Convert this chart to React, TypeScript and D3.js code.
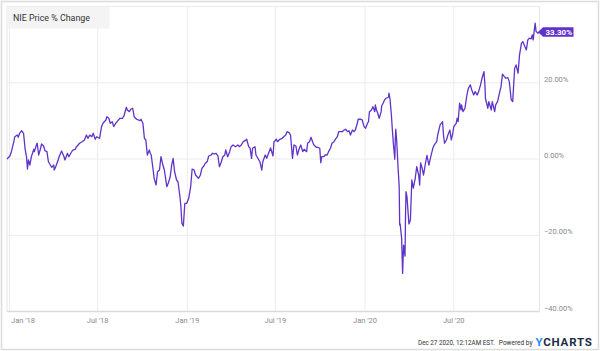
import * as d3 from "d3";

const dates = [
  "2017-12-27", "2018-01-02", "2018-01-05", "2018-01-10", "2018-01-12", "2018-01-17", "2018-01-19", "2018-01-22", "2018-01-26", "2018-01-30",
  "2018-02-02", "2018-02-05", "2018-02-07", "2018-02-09", "2018-02-12", "2018-02-15", "2018-02-20", "2018-02-21", "2018-02-26", "2018-02-27",
  "2018-03-02", "2018-03-05", "2018-03-08", "2018-03-12", "2018-03-15", "2018-03-19", "2018-03-22", "2018-03-26", "2018-03-29", "2018-04-02",
  "2018-04-03", "2018-04-06", "2018-04-11", "2018-04-13", "2018-04-18", "2018-04-23", "2018-04-25", "2018-04-30", "2018-05-03", "2018-05-07",
  "2018-05-11", "2018-05-16", "2018-05-18", "2018-05-25", "2018-05-30", "2018-06-04", "2018-06-08", "2018-06-11", "2018-06-15", "2018-06-19",
  "2018-06-22", "2018-06-26", "2018-06-29", "2018-07-05", "2018-07-09", "2018-07-12", "2018-07-18", "2018-07-20", "2018-07-24", "2018-07-27",
  "2018-07-31", "2018-08-03", "2018-08-07", "2018-08-10", "2018-08-16", "2018-08-21", "2018-08-24", "2018-08-29", "2018-08-31", "2018-09-04",
  "2018-09-07", "2018-09-11", "2018-09-14", "2018-09-19", "2018-09-26", "2018-09-28", "2018-10-02", "2018-10-05", "2018-10-08", "2018-10-11",
  "2018-10-15", "2018-10-17", "2018-10-19", "2018-10-23", "2018-10-25", "2018-10-29", "2018-11-01", "2018-11-05", "2018-11-08", "2018-11-12",
  "2018-11-15", "2018-11-20", "2018-11-23", "2018-11-27", "2018-11-30", "2018-12-03", "2018-12-06", "2018-12-10", "2018-12-13", "2018-12-17",
  "2018-12-19", "2018-12-21", "2018-12-24", "2018-12-27", "2018-12-31", "2019-01-04", "2019-01-08", "2019-01-11", "2019-01-15", "2019-01-18",
  "2019-01-24", "2019-01-28", "2019-01-31", "2019-02-04", "2019-02-07", "2019-02-11", "2019-02-14", "2019-02-19", "2019-02-22", "2019-02-26",
  "2019-03-01", "2019-03-05", "2019-03-08", "2019-03-12", "2019-03-15", "2019-03-19", "2019-03-21", "2019-03-25", "2019-03-29", "2019-04-01",
  "2019-04-05", "2019-04-10", "2019-04-15", "2019-04-18", "2019-04-22", "2019-04-26", "2019-04-30", "2019-05-03", "2019-05-07", "2019-05-10",
  "2019-05-13", "2019-05-15", "2019-05-20", "2019-05-22", "2019-05-28", "2019-05-30", "2019-06-03", "2019-06-05", "2019-06-10", "2019-06-13",
  "2019-06-18", "2019-06-21", "2019-06-26", "2019-06-28", "2019-07-03", "2019-07-05", "2019-07-10", "2019-07-15", "2019-07-18", "2019-07-22",
  "2019-07-25", "2019-07-29", "2019-08-01", "2019-08-05", "2019-08-08", "2019-08-12", "2019-08-15", "2019-08-19", "2019-08-22", "2019-08-26",
  "2019-08-29", "2019-09-03", "2019-09-05", "2019-09-09", "2019-09-12", "2019-09-16", "2019-09-18", "2019-09-23", "2019-09-26", "2019-09-30",
  "2019-10-02", "2019-10-04", "2019-10-08", "2019-10-11", "2019-10-15", "2019-10-18", "2019-10-22", "2019-10-25", "2019-10-29", "2019-11-01",
  "2019-11-05", "2019-11-08", "2019-11-12", "2019-11-15", "2019-11-19", "2019-11-22", "2019-11-26", "2019-11-29", "2019-12-02", "2019-12-06",
  "2019-12-09", "2019-12-12", "2019-12-16", "2019-12-18", "2019-12-23", "2019-12-26", "2019-12-30", "2020-01-02", "2020-01-06", "2020-01-08",
  "2020-01-10", "2020-01-14", "2020-01-17", "2020-01-21", "2020-01-22", "2020-01-24", "2020-01-27", "2020-01-30", "2020-02-03", "2020-02-04",
  "2020-02-07", "2020-02-10", "2020-02-13", "2020-02-18", "2020-02-19", "2020-02-21", "2020-02-24", "2020-02-26", "2020-02-28", "2020-03-02",
  "2020-03-03", "2020-03-04", "2020-03-06", "2020-03-09", "2020-03-11", "2020-03-12", "2020-03-13", "2020-03-16", "2020-03-18", "2020-03-20",
  "2020-03-23", "2020-03-24", "2020-03-25", "2020-03-27", "2020-03-31", "2020-04-03", "2020-04-06", "2020-04-09", "2020-04-13", "2020-04-16",
  "2020-04-20", "2020-04-22", "2020-04-24", "2020-04-27", "2020-04-30", "2020-05-04", "2020-05-07", "2020-05-11", "2020-05-14", "2020-05-19",
  "2020-05-22", "2020-05-27", "2020-05-29", "2020-06-03", "2020-06-08", "2020-06-10", "2020-06-12", "2020-06-16", "2020-06-19", "2020-06-23",
  "2020-06-26", "2020-06-29", "2020-07-01", "2020-07-06", "2020-07-08", "2020-07-10", "2020-07-13", "2020-07-16", "2020-07-17", "2020-07-20",
  "2020-07-24", "2020-07-28", "2020-07-31", "2020-08-04", "2020-08-07", "2020-08-11", "2020-08-14", "2020-08-18", "2020-08-21", "2020-08-25",
  "2020-08-28", "2020-09-01", "2020-09-03", "2020-09-04", "2020-09-09", "2020-09-11", "2020-09-16", "2020-09-18", "2020-09-23", "2020-09-25",
  "2020-09-29", "2020-10-02", "2020-10-06", "2020-10-09", "2020-10-13", "2020-10-16", "2020-10-20", "2020-10-23", "2020-10-27", "2020-10-30",
  "2020-11-03", "2020-11-06", "2020-11-10", "2020-11-13", "2020-11-17", "2020-11-20", "2020-11-24", "2020-11-27", "2020-11-30", "2020-12-03",
  "2020-12-07", "2020-12-09", "2020-12-11", "2020-12-15", "2020-12-17", "2020-12-21", "2020-12-24",
];

const pctChange = [
  0, 0.79, 1.92, 4.54, 5.85, 6.3, 5.7, 6.75, 7.43, 6.75,
  2.81, 0.6, -2.63, -0.26, -1.58, 0.6, 2.55, 1.92, 3.94, 4.12,
  1.05, 2.36, 3.94, 3.41, 2.18, 1.92, -0.71, -1.58, -2.18, -1.58,
  -2.89, -2.02, -0.26, 0.6, 2.1, 0.6, -0.26, 1.5, 0.6, 1.5,
  2.36, 2.55, 3.07, 4.12, 4.54, 4.99, 6.3, 5.43, 6.3, 5.85,
  6.75, 5.17, 5.85, 5.43, 8.48, 9.37, 10.24, 11.1, 10.68, 9.37,
  9.79, 8.48, 9.37, 9.79, 10.68, 10.68, 11.29, 13.57, 12.86, 12.42,
  13.05, 13.31, 11.1, 10.42, 10.05, 10.42, 9.37, 5.43, 4.99, 1.05,
  2.36, 1.5, 1.05, -2.89, -5.07, -6.83, -3.33, -2.89, 0.6, -1.58,
  -2.89, -7.27, -6.38, -4.65, -1.58, 0.18, -3.33, -5.51, -5.96, -9.9,
  -12.52, -16.88, -17.59, -11.63, -11.63, -10.32, -7.27, -2.63, -2.89, -4.2,
  -5.07, -4.2, -2.44, -1.84, -1.13, -0.71, 0.79, 1.05, 1.5, 1.31,
  1.5, 0.79, -2.02, -0.71, 0.6, 1.05, 2.36, 0.6, 1.92, 3.23,
  3.68, 3.23, 3.68, 3.23, 3.68, 4.54, 4.8, 5.17, 3.23, 2.81,
  0.18, 2.81, 3.23, 1.05, -0.26, -0.71, -2.89, -0.71, 1.05, 0.18,
  1.92, 2.89, 0.79, 4.54, 5.17, 4.54, 5.17, 5.43, 5.85, 6.3,
  7.17, 6.9, 6.3, 0.18, 3.68, 3.41, 1.05, 2.81, 3.68, 1.92,
  2.55, 1.92, 4.12, 4.54, 5.7, 4.28, 3.68, 3.07, 3.07, 2.81,
  -0.97, 0.6, 0.6, 1.05, 1.05, 1.92, 2.81, 4.12, 4.54, 5.17,
  5.85, 7.17, 7.17, 7.17, 7.61, 7.8, 7.17, 7.43, 6.3, 7.61,
  7.17, 7.61, 9.37, 10.42, 10.42, 10.24, 8.48, 8.06, 9.37, 9.79,
  12.42, 12.86, 13.73, 12.42, 14.18, 13.05, 12.0, 10.68, 12.42, 13.91,
  14.62, 15.49, 15.93, 16.2, 17.25, 15.93, 11.55, 7.61, 4.12, -0.08,
  4.99, 7.8, 4.54, -2.89, -7.27, -17.3, -17.06, -20.74, -30.0, -22.58,
  -25.46, -14.7, -8.58, -9.9, -17.06, -16.01, -5.51, -7.61, -4.99, -2.02,
  -4.2, -6.83, -1.05, -2.36, -4.2, -1.05, 0.92, -1.58, 0.18, 2.81,
  3.68, 4.54, 6.3, 8.93, 9.79, 6.3, 4.12, 4.99, 6.3, 7.61,
  4.99, 6.75, 8.48, 9.37, 10.68, 9.79, 14.62, 12.86, 14.18, 12.42,
  13.31, 16.8, 18.56, 19.43, 18.11, 16.8, 17.67, 16.8, 17.67, 19.43,
  21.18, 22.92, 19.43, 15.93, 13.31, 15.04, 12.86, 15.04, 12.42, 14.18,
  15.04, 16.8, 18.98, 22.23, 21.6, 21.18, 21.34, 20.29, 15.49, 15.04,
  23.81, 24.68, 22.5, 27.3, 30.37, 30.79, 29.48, 28.61, 31.24, 31.68,
  31.5, 32.55, 31.24, 35.62, 33.42, 33.0, 33.3,
];

const yTicks = [20, 0, -20, -40];
const yGrid = [20, 0, -20];
const xTicks = ["2018-01-01", "2018-07-01", "2019-01-01", "2019-07-01", "2020-01-01", "2020-07-01"];
const xTickLabels = ["Jan '18", "Jul '18", "Jan '19", "Jul '19", "Jan '20", "Jul '20"];
const seriesName = "NIE Price % Change";
const stamp = "Dec 27 2020, 12:12AM EST.";
const poweredBy = "Powered by";

const purple = "#5f33c9";
const font = "Roboto, 'Noto Sans', sans-serif";

export default function App() {
  const W = 600;
  const H = 351;
  const plot = { left: 7, right: 539.5, top: 6.5, bottom: 311.5 };

  const parse = d3.timeParse("%Y-%m-%d");
  const data = dates.map((d, i) => ({ date: parse(d) as Date, v: pctChange[i] }));

  const x = d3.scaleTime()
    .domain(d3.extent(data, d => d.date) as [Date, Date])
    .range([plot.left, plot.right]);
  const y = d3.scaleLinear().domain([-40, 40]).range([plot.bottom, plot.top]);

  const line = d3.line<{ date: Date; v: number }>()
    .x(d => x(d.date))
    .y(d => y(d.v));

  const fmt = (v: number) => d3.format(".2f")(v) + "%";
  const last = data[data.length - 1];
  const lx = x(last.date);
  const ly = y(last.v);

  return (
    <svg width={W} height={H} style={{ position: "absolute", left: 0, top: 0, background: "#fff" }}>
      <rect x={1.5} y={1.5} width={W - 3} height={H - 3} fill="#fff" stroke="#dcdcdc" strokeWidth={1.5} />

      {/* grid */}
      {xTicks.map(t => (
        <line key={t} x1={x(parse(t) as Date)} x2={x(parse(t) as Date)} y1={plot.top} y2={plot.bottom} stroke="#ececec" />
      ))}
      {yGrid.map(v => (
        <line key={v} x1={plot.left} x2={plot.right} y1={y(v)} y2={y(v)} stroke="#ececec" />
      ))}
      <line x1={plot.left} x2={plot.right} y1={plot.top} y2={plot.top} stroke="#ececec" />
      <line x1={plot.left} x2={plot.left} y1={plot.top} y2={plot.bottom} stroke="#e4e4e4" />
      <line x1={plot.right} x2={plot.right} y1={plot.top} y2={plot.bottom} stroke="#e4e4e4" />
      <line x1={plot.left} x2={plot.right} y1={plot.bottom} y2={plot.bottom} stroke="#dadada" strokeWidth={1.5} />

      {/* legend */}
      <rect x={plot.left + 0.5} y={plot.top + 0.5} width={102} height={21.5} fill="#f4f4f4" />
      <text x={13} y={20.5} fontFamily={font} fontSize={9} fill="#333" textLength={77} lengthAdjust="spacingAndGlyphs">{seriesName}</text>

      {/* series */}
      <path d={line(data) ?? ""} fill="none" stroke={purple} strokeWidth={1.3} strokeLinejoin="round" />

      {/* last value tag */}
      <path d={`M${lx - 1.5},${ly} L${lx + 3.5},${ly - 4.7} L${lx + 34},${ly - 4.7} L${lx + 34},${ly + 4.7} L${lx + 3.5},${ly + 4.7} Z`} fill={purple} />
      <text x={lx + 6} y={ly + 3} fontFamily={font} fontSize={8} fontWeight={700} fill="#fff">{fmt(last.v)}</text>

      {/* y axis labels */}
      {yTicks.map(v => (
        <text key={v} x={544} y={y(v) - 1} fontFamily={font} fontSize={7.5} fill="#8a8a8a">{fmt(v)}</text>
      ))}

      {/* x axis labels */}
      {xTicks.map((t, i) => (
        <text key={t} x={Math.max(x(parse(t) as Date), 23)} y={322.5} textAnchor="middle" fontFamily={font} fontSize={7.5} fill="#8a8a8a">{xTickLabels[i]}</text>
      ))}

      {/* footer */}
      <text x={418} y={344.5} fontFamily={font} fontSize={6.3} fill="#333">{stamp}</text>
      <text x={532.5} y={344.5} textAnchor="end" fontFamily={font} fontSize={6.5} fill="#333">{poweredBy}</text>
      <text x={535.5} y={346} fontFamily={font} fontSize={11.5} fontWeight={700} letterSpacing={0.8} fill="#1d2b45">
        <tspan fill="#1e8ff0">Y</tspan>CHARTS
      </text>
    </svg>
  );
}
